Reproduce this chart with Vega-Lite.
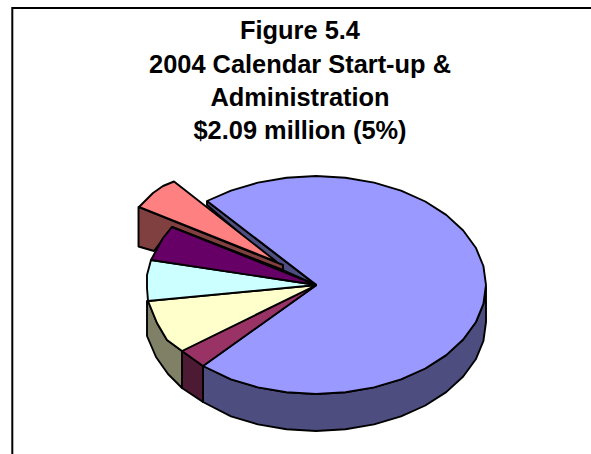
{
  "$schema": "https://vega.github.io/schema/vega-lite/v6.json",
  "width": 591,
  "height": 454,
  "padding": 0,
  "autosize": {"type": "fit", "contains": "padding"},
  "background": "white",
  "view": {"stroke": null},
  "config": {"axis": {"disable": true}},
  "datasets": {
    "frame": [
      {"x": 12.3, "y": 454, "s": 0},
      {"x": 12.3, "y": 8, "s": 1},
      {"x": 591, "y": 8, "s": 2}
    ],
    "heading": [
      {"line": "Figure 5.4", "x": 300, "y": 39},
      {"line": "2004 Calendar Start-up &", "x": 300, "y": 72.5},
      {"line": "Administration", "x": 300, "y": 105.5},
      {"line": "$2.09 million (5%)", "x": 300, "y": 138.5}
    ],
    "pieces": [
      {"piece": "main side", "s": 0, "x": 203, "y": 366},
      {"piece": "main side", "s": 1, "x": 231, "y": 379.4},
      {"piece": "main side", "s": 2, "x": 257.9, "y": 387.4},
      {"piece": "main side", "s": 3, "x": 286.5, "y": 392.3},
      {"piece": "main side", "s": 4, "x": 316, "y": 394},
      {"piece": "main side", "s": 5, "x": 345.5, "y": 392.3},
      {"piece": "main side", "s": 6, "x": 374.1, "y": 387.4},
      {"piece": "main side", "s": 7, "x": 401, "y": 379.4},
      {"piece": "main side", "s": 8, "x": 425.3, "y": 368.5},
      {"piece": "main side", "s": 9, "x": 446.2, "y": 355.1},
      {"piece": "main side", "s": 10, "x": 463.2, "y": 339.5},
      {"piece": "main side", "s": 11, "x": 475.8, "y": 322.3},
      {"piece": "main side", "s": 12, "x": 483.4, "y": 303.9},
      {"piece": "main side", "s": 13, "x": 486, "y": 287},
      {"piece": "main side", "s": 14, "x": 486, "y": 322},
      {"piece": "main side", "s": 15, "x": 483.4, "y": 341},
      {"piece": "main side", "s": 16, "x": 475.8, "y": 359.3},
      {"piece": "main side", "s": 17, "x": 463.2, "y": 376.5},
      {"piece": "main side", "s": 18, "x": 446.2, "y": 392.1},
      {"piece": "main side", "s": 19, "x": 425.3, "y": 405.5},
      {"piece": "main side", "s": 20, "x": 401, "y": 416.4},
      {"piece": "main side", "s": 21, "x": 374.1, "y": 424.4},
      {"piece": "main side", "s": 22, "x": 345.5, "y": 429.3},
      {"piece": "main side", "s": 23, "x": 316, "y": 431},
      {"piece": "main side", "s": 24, "x": 286.5, "y": 429.3},
      {"piece": "main side", "s": 25, "x": 257.9, "y": 424.4},
      {"piece": "main side", "s": 26, "x": 231, "y": 416.4},
      {"piece": "main side", "s": 27, "x": 203, "y": 402},
      {"piece": "main side", "s": 28, "x": 203, "y": 366},

      {"piece": "plum side", "s": 0, "x": 182, "y": 351},
      {"piece": "plum side", "s": 1, "x": 203, "y": 366},
      {"piece": "plum side", "s": 2, "x": 203, "y": 402},
      {"piece": "plum side", "s": 3, "x": 182, "y": 388},
      {"piece": "plum side", "s": 4, "x": 182, "y": 351},

      {"piece": "yellow side", "s": 0, "x": 148, "y": 301},
      {"piece": "yellow side", "s": 1, "x": 157, "y": 323},
      {"piece": "yellow side", "s": 2, "x": 167, "y": 340},
      {"piece": "yellow side", "s": 3, "x": 182, "y": 351},
      {"piece": "yellow side", "s": 4, "x": 182, "y": 388},
      {"piece": "yellow side", "s": 5, "x": 168, "y": 374},
      {"piece": "yellow side", "s": 6, "x": 156, "y": 357},
      {"piece": "yellow side", "s": 7, "x": 147, "y": 336},
      {"piece": "yellow side", "s": 8, "x": 147, "y": 301},
      {"piece": "yellow side", "s": 9, "x": 148, "y": 301},

      {"piece": "main cut", "s": 0, "x": 207, "y": 201},
      {"piece": "main cut", "s": 1, "x": 207, "y": 205},
      {"piece": "main cut", "s": 2, "x": 283, "y": 270},
      {"piece": "main cut", "s": 3, "x": 316, "y": 285},
      {"piece": "main cut", "s": 4, "x": 207, "y": 201},

      {"piece": "salmon side", "s": 0, "x": 139, "y": 207},
      {"piece": "salmon side", "s": 1, "x": 283, "y": 265},
      {"piece": "salmon side", "s": 2, "x": 283, "y": 270},
      {"piece": "salmon side", "s": 3, "x": 172, "y": 227},
      {"piece": "salmon side", "s": 4, "x": 154, "y": 251},
      {"piece": "salmon side", "s": 5, "x": 138.5, "y": 246.5},
      {"piece": "salmon side", "s": 6, "x": 138.5, "y": 207},
      {"piece": "salmon side", "s": 7, "x": 139, "y": 207},

      {"piece": "main", "s": 0, "x": 316.5, "y": 285},
      {"piece": "main", "s": 1, "x": 207, "y": 201},
      {"piece": "main", "s": 2, "x": 231, "y": 190.6},
      {"piece": "main", "s": 3, "x": 257.9, "y": 182.6},
      {"piece": "main", "s": 4, "x": 286.5, "y": 177.7},
      {"piece": "main", "s": 5, "x": 316, "y": 176},
      {"piece": "main", "s": 6, "x": 345.5, "y": 177.7},
      {"piece": "main", "s": 7, "x": 374.1, "y": 182.6},
      {"piece": "main", "s": 8, "x": 401, "y": 190.6},
      {"piece": "main", "s": 9, "x": 425.3, "y": 201.5},
      {"piece": "main", "s": 10, "x": 446.2, "y": 214.9},
      {"piece": "main", "s": 11, "x": 463.2, "y": 230.5},
      {"piece": "main", "s": 12, "x": 475.8, "y": 247.7},
      {"piece": "main", "s": 13, "x": 483.4, "y": 266},
      {"piece": "main", "s": 14, "x": 486, "y": 285},
      {"piece": "main", "s": 15, "x": 483.4, "y": 303.9},
      {"piece": "main", "s": 16, "x": 475.8, "y": 322.3},
      {"piece": "main", "s": 17, "x": 463.2, "y": 339.5},
      {"piece": "main", "s": 18, "x": 446.2, "y": 355.1},
      {"piece": "main", "s": 19, "x": 425.3, "y": 368.5},
      {"piece": "main", "s": 20, "x": 401, "y": 379.4},
      {"piece": "main", "s": 21, "x": 374.1, "y": 387.4},
      {"piece": "main", "s": 22, "x": 345.5, "y": 392.3},
      {"piece": "main", "s": 23, "x": 316, "y": 394},
      {"piece": "main", "s": 24, "x": 286.5, "y": 392.3},
      {"piece": "main", "s": 25, "x": 257.9, "y": 387.4},
      {"piece": "main", "s": 26, "x": 231, "y": 379.4},
      {"piece": "main", "s": 27, "x": 203, "y": 366},
      {"piece": "main", "s": 28, "x": 316.5, "y": 285},

      {"piece": "magenta", "s": 0, "x": 316.5, "y": 285},
      {"piece": "magenta", "s": 1, "x": 203, "y": 366},
      {"piece": "magenta", "s": 2, "x": 182, "y": 351},
      {"piece": "magenta", "s": 3, "x": 316.5, "y": 285},

      {"piece": "yellow", "s": 0, "x": 316.5, "y": 285},
      {"piece": "yellow", "s": 1, "x": 182, "y": 351},
      {"piece": "yellow", "s": 2, "x": 167, "y": 340},
      {"piece": "yellow", "s": 3, "x": 157, "y": 323},
      {"piece": "yellow", "s": 4, "x": 148, "y": 301},
      {"piece": "yellow", "s": 5, "x": 316.5, "y": 285},

      {"piece": "cyan", "s": 0, "x": 316.5, "y": 285},
      {"piece": "cyan", "s": 1, "x": 148, "y": 301},
      {"piece": "cyan", "s": 2, "x": 147, "y": 288},
      {"piece": "cyan", "s": 3, "x": 147, "y": 275},
      {"piece": "cyan", "s": 4, "x": 151, "y": 260},
      {"piece": "cyan", "s": 5, "x": 316.5, "y": 285},

      {"piece": "purple", "s": 0, "x": 316.5, "y": 285},
      {"piece": "purple", "s": 1, "x": 151, "y": 260},
      {"piece": "purple", "s": 2, "x": 158, "y": 247},
      {"piece": "purple", "s": 3, "x": 163, "y": 238},
      {"piece": "purple", "s": 4, "x": 172, "y": 227},
      {"piece": "purple", "s": 5, "x": 316.5, "y": 285},

      {"piece": "salmon", "s": 0, "x": 277, "y": 262},
      {"piece": "salmon", "s": 1, "x": 139, "y": 207},
      {"piece": "salmon", "s": 2, "x": 153, "y": 193},
      {"piece": "salmon", "s": 3, "x": 163, "y": 186},
      {"piece": "salmon", "s": 4, "x": 174, "y": 181.5},
      {"piece": "salmon", "s": 5, "x": 277, "y": 262}
    ]
  },
  "layer": [
    {
      "data": {"name": "frame"},
      "mark": {"type": "line", "stroke": "black", "strokeWidth": 2, "clip": true},
      "encoding": {
        "x": {"field": "x", "type": "quantitative", "scale": {"domain": [0, 591], "nice": false}, "axis": null},
        "y": {"field": "y", "type": "quantitative", "scale": {"domain": [454, 0], "nice": false}, "axis": null},
        "order": {"field": "s"}
      }
    },
    {
      "data": {"name": "pieces"},
      "mark": {"type": "line", "stroke": "black", "strokeWidth": 1.9, "strokeJoin": "round"},
      "encoding": {
        "x": {"field": "x", "type": "quantitative", "scale": {"domain": [0, 591], "nice": false}, "axis": null},
        "y": {"field": "y", "type": "quantitative", "scale": {"domain": [454, 0], "nice": false}, "axis": null},
        "detail": {"field": "piece"},
        "order": {"field": "s"},
        "fill": {
          "field": "piece",
          "type": "nominal",
          "legend": null,
          "scale": {
            "domain": ["main side", "plum side", "yellow side", "main cut", "salmon side", "main", "magenta", "yellow", "cyan", "purple", "salmon"],
            "range": ["#4d4d80", "#4d1a33", "#808066", "#4d4d80", "#804040", "#9999ff", "#993366", "#ffffcc", "#ccffff", "#660066", "#ff8080"]
          }
        }
      }
    },
    {
      "data": {"name": "heading"},
      "mark": {"type": "text", "font": "Liberation Sans", "fontWeight": "bold", "fontSize": 25.4, "align": "center", "baseline": "alphabetic", "color": "black"},
      "encoding": {
        "x": {"field": "x", "type": "quantitative", "scale": {"domain": [0, 591], "nice": false}, "axis": null},
        "y": {"field": "y", "type": "quantitative", "scale": {"domain": [454, 0], "nice": false}, "axis": null},
        "text": {"field": "line"}
      }
    }
  ]
}
